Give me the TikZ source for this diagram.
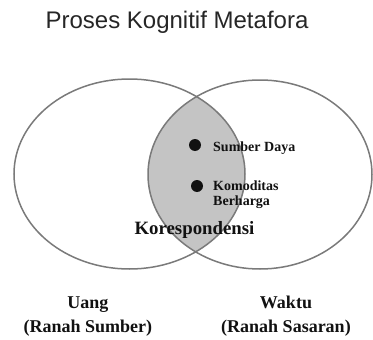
\documentclass[tikz,border=0pt]{standalone}
\usepackage{fontspec}
\setmainfont{Liberation Serif}
\setsansfont{Liberation Sans}
\usepackage{tikz}
\definecolor{RingLine}{HTML}{7A7A7A}
\definecolor{LensGray}{HTML}{C4C4C4}
\definecolor{Ink}{HTML}{111111}

\begin{document}
\begin{tikzpicture}[
  x=1pt,y=-1pt,
  ring/.style={draw=RingLine,line width=1.5pt},
  dotmark/.style={circle,fill=Ink,inner sep=0pt,minimum size=12pt},
  lbl/.style={font=\bfseries\fontsize{14}{15}\selectfont,text=Ink,align=left,inner sep=0pt},
  big/.style={font=\bfseries\fontsize{18}{24}\selectfont,text=Ink,align=center,inner sep=0pt}
]
  \useasboundingbox (0,0) rectangle (373,340);

  % overlap of the two domains
  \begin{scope}
    \clip (129.5,174) ellipse [x radius=115.5,y radius=95];
    \fill[LensGray] (260,174.5) ellipse [x radius=112,y radius=94.5];
  \end{scope}
  \draw[ring] (129.5,174) ellipse [x radius=115.5,y radius=95];
  \draw[ring] (260,174.5) ellipse [x radius=112,y radius=94.5];

  \node[font=\sffamily\fontsize{24}{28}\selectfont,text=black!85,anchor=base]
    (title) at (177,28) {Proses Kognitif Metafora};

  \node[dotmark] (dota) at (195,145) {};
  \node[dotmark] (dotb) at (197,186) {};
  \node[lbl,anchor=base west] (daya) at (213,151) {Sumber Daya};
  \node[lbl,anchor=base west] (komoditas) at (213,205)
    {Komoditas\\Berharga};

  \node[big,font=\bfseries\fontsize{18.8}{24}\selectfont,anchor=base]
    (korespondensi) at (194.5,234) {Korespondensi};

  \node[big,anchor=base] (uang) at (88,332) {Uang\\(Ranah Sumber)};
  \node[big,anchor=base] (waktu) at (286,332) {Waktu\\(Ranah Sasaran)};
\end{tikzpicture}
\end{document}
